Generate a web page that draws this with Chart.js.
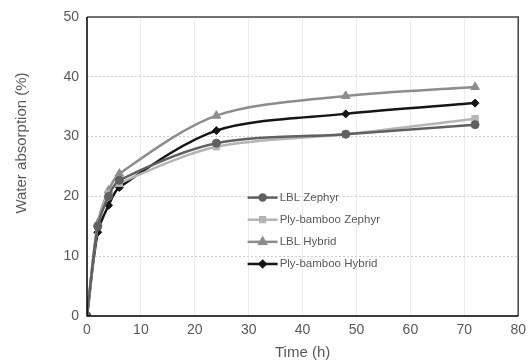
<!DOCTYPE html>
<html>
<head>
<meta charset="utf-8">
<script src="https://cdn.jsdelivr.net/npm/chart.js@4"></script>
<style>
  html, body { margin: 0; padding: 0; background: #fff; }
  #wrap { width: 532px; height: 362px; position: relative; }
</style>
</head>
<body>
<div id="wrap"><canvas id="absorptionChart"></canvas></div>
<script>
const times = [0, 2, 4, 6, 24, 48, 72];
const lblZephyr = [0, 15.0, 20.0, 22.7, 28.9, 30.4, 32.0];
const plyZephyr = [0, 15.0, 20.5, 22.2, 28.3, 30.4, 33.0];
const lblHybrid = [0, 15.5, 21.0, 23.8, 33.5, 36.8, 38.3];
const plyHybrid = [0, 14.0, 18.5, 21.5, 31.0, 33.8, 35.6];
const xTicks = [0, 10, 20, 30, 40, 50, 60, 70, 80];
const yTicks = [0, 10, 20, 30, 40, 50];

const seriesNames = ["LBL Zephyr", "Ply-bamboo Zephyr", "LBL Hybrid", "Ply-bamboo Hybrid"];
const seriesColors = ["#606060", "#b5b5b5", "#8d8d8d", "#151515"];
const seriesShapes = ["circle", "rect", "triangle", "rectRot"];
const seriesSizes = [4, 4.5, 5, 4];
const allValues = [lblZephyr, plyZephyr, lblHybrid, plyHybrid];

const textGray = "#595959";
const fontFamily = "'Liberation Sans', Arial, sans-serif";

const datasets = allValues.map((vals, i) => ({
  label: seriesNames[i],
  data: times.map((t, k) => ({ x: t, y: vals[k] })),
  showLine: true,
  borderColor: seriesColors[i],
  backgroundColor: seriesColors[i],
  borderWidth: 2.5,
  pointStyle: seriesShapes[i],
  pointRadius: seriesSizes[i],
  pointBorderWidth: 1,
  tension: 0.3,
  fill: false
}));

// legend drawn inside the plot, Excel style (line with marker)
const innerLegend = {
  id: "innerLegend",
  afterDatasetsDraw(chart) {
    const { ctx, scales } = chart;
    const left = scales.x.getPixelForValue(29.8);
    ctx.save();
    ctx.font = "11.5px " + fontFamily;
    ctx.textBaseline = "middle";
    datasets.forEach((ds, i) => {
      const y = scales.y.getPixelForValue(19.8 - i * 3.7);
      ctx.strokeStyle = ds.borderColor;
      ctx.lineWidth = 2.5;
      ctx.beginPath();
      ctx.moveTo(left, y);
      ctx.lineTo(left + 30, y);
      ctx.stroke();
      ctx.fillStyle = ds.borderColor;
      Chart.helpers.drawPoint(ctx, {
        pointStyle: ds.pointStyle,
        radius: ds.pointRadius * 0.75,
        borderWidth: 1
      }, left + 15, y);
      ctx.fillStyle = textGray;
      ctx.fillText(ds.label, left + 32, y);
    });
    ctx.restore();
  }
};

// y title sits a little above the plot's middle in the original
const yTitle = {
  id: "yTitle",
  afterDraw(chart) {
    const { ctx } = chart;
    ctx.save();
    ctx.translate(22, 143);
    ctx.rotate(-Math.PI / 2);
    ctx.font = "15px " + fontFamily;
    ctx.fillStyle = textGray;
    ctx.textAlign = "center";
    ctx.textBaseline = "middle";
    ctx.fillText("Water absorption (%)", 0, 0);
    ctx.restore();
  }
};

const frame = {
  id: "frame",
  afterDraw(chart) {
    const { ctx, chartArea: a } = chart;
    ctx.save();
    ctx.strokeStyle = "#444";
    ctx.lineWidth = 1.5;
    ctx.beginPath();
    ctx.moveTo(a.left, a.top);
    ctx.lineTo(a.right, a.top);
    ctx.lineTo(a.right, a.bottom);
    ctx.stroke();
    ctx.strokeStyle = "#000";
    ctx.beginPath();
    ctx.moveTo(a.left, a.top);
    ctx.lineTo(a.left, a.bottom);
    ctx.lineTo(a.right, a.bottom);
    ctx.stroke();
    ctx.restore();
  }
};

new Chart(document.getElementById("absorptionChart"), {
  type: "scatter",
  data: { datasets },
  options: {
    responsive: true,
    maintainAspectRatio: false,
    animation: false,
    layout: { padding: { top: 17, right: 13, left: 0, bottom: 0 } },
    plugins: {
      legend: { display: false },
      tooltip: { enabled: false }
    },
    scales: {
      x: {
        type: "linear",
        min: 0,
        max: 80,
        afterBuildTicks: axis => { axis.ticks = xTicks.map(v => ({ value: v })); },
        afterFit: axis => { axis.height = 46; },
        grid: { color: "#ececec", lineWidth: 1, drawTicks: false },
        border: { display: false },
        ticks: { color: textGray, font: { size: 14, family: fontFamily }, padding: 6, maxRotation: 0 },
        title: {
          display: true,
          text: "Time (h)",
          color: textGray,
          font: { size: 15, family: fontFamily },
          padding: { top: 0, bottom: 0 }
        }
      },
      y: {
        min: 0,
        max: 50,
        afterBuildTicks: axis => { axis.ticks = yTicks.map(v => ({ value: v })); },
        afterFit: axis => { axis.width = 87; },
        grid: { color: "#cfcfcf", lineWidth: 1, drawTicks: false },
        border: { display: false, dash: [2, 2] },
        ticks: { color: textGray, font: { size: 14, family: fontFamily }, padding: 8 }
      }
    }
  },
  plugins: [innerLegend, yTitle, frame]
});
</script>
</body>
</html>
